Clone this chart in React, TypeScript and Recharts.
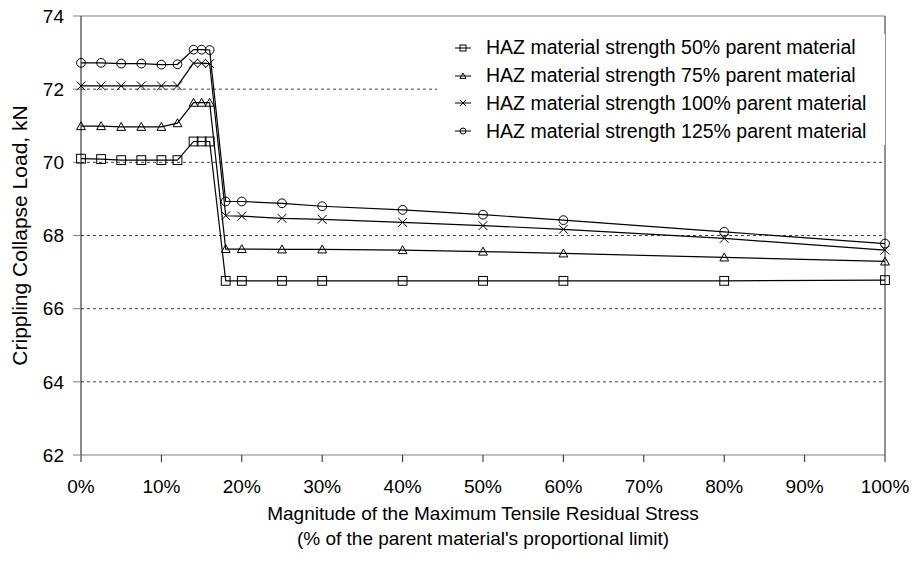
import React from 'react';
import { LineChart, Line, XAxis, YAxis, CartesianGrid, ReferenceLine, Legend } from 'recharts';

const stressPct = [0, 2.5, 5, 7.5, 10, 12, 14, 15, 16, 18, 20, 25, 30, 40, 50, 60, 80, 100];
const haz50 = [70.10, 70.09, 70.06, 70.06, 70.06, 70.06, 70.57, 70.57, 70.57, 66.76, 66.76, 66.76, 66.76, 66.76, 66.76, 66.76, 66.76, 66.78];
const haz75 = [70.99, 70.99, 70.97, 70.97, 70.97, 71.07, 71.63, 71.63, 71.63, 67.63, 67.63, 67.62, 67.62, 67.60, 67.56, 67.51, 67.40, 67.29];
const haz100 = [72.09, 72.09, 72.09, 72.09, 72.09, 72.09, 72.71, 72.71, 72.70, 68.54, 68.53, 68.47, 68.44, 68.36, 68.27, 68.17, 67.92, 67.60];
const haz125 = [72.72, 72.72, 72.70, 72.70, 72.67, 72.68, 73.08, 73.08, 73.07, 68.93, 68.93, 68.88, 68.80, 68.70, 68.57, 68.42, 68.10, 67.78];

const seriesNames = [
  'HAZ material strength 50% parent material',
  'HAZ material strength 75% parent material',
  'HAZ material strength 100% parent material',
  'HAZ material strength 125% parent material',
];
const seriesKeys = ['s50', 's75', 's100', 's125'];
const markerKinds = ['square', 'triangle', 'cross', 'circle'];

const xTicks = [0, 10, 20, 30, 40, 50, 60, 70, 80, 90, 100];
const yTicks = [62, 64, 66, 68, 70, 72, 74];
const gridValues = [64, 66, 68, 70, 72];

const xTitle1 = 'Magnitude of the Maximum Tensile Residual Stress';
const xTitle2 = "(% of the parent material's proportional limit)";
const yTitle = 'Crippling Collapse Load, kN';

const data = stressPct.map((x, i) => ({
  x,
  s50: haz50[i],
  s75: haz75[i],
  s100: haz100[i],
  s125: haz125[i],
}));

const FONT = '"Liberation Sans", Arial, sans-serif';

function Marker({ kind, cx, cy, r }: { kind: string; cx: number; cy: number; r: number }) {
  const common = { fill: 'none', stroke: '#000', strokeWidth: 1 };
  if (cx == null || cy == null) return null;
  if (kind === 'square') {
    return <rect x={cx - r} y={cy - r} width={2 * r} height={2 * r} {...common} />;
  }
  if (kind === 'triangle') {
    return (
      <polygon
        points={`${cx},${cy - r} ${cx + r},${cy + r * 0.8} ${cx - r},${cy + r * 0.8}`}
        {...common}
      />
    );
  }
  if (kind === 'cross') {
    return (
      <path
        d={`M${cx - r},${cy - r}L${cx + r},${cy + r}M${cx - r},${cy + r}L${cx + r},${cy - r}`}
        {...common}
      />
    );
  }
  return <circle cx={cx} cy={cy} r={r} {...common} />;
}

const makeDot = (kind: string) => (p: any) => (
  <Marker key={`${kind}-${p.index}`} kind={kind} cx={p.cx} cy={p.cy} r={4.4} />
);

const renderLegend = () => (
  <div style={{ background: '#fff', paddingLeft: 18, fontFamily: FONT }}>
    {seriesNames.map((name, i) => (
      <div key={name} style={{ display: 'flex', alignItems: 'center', height: 27.8 }}>
        <svg width={16} height={12} style={{ display: 'block' }}>
          <line x1={0} y1={6} x2={16} y2={6} stroke="#000" strokeWidth={1} />
          <Marker kind={markerKinds[i]} cx={8} cy={6} r={3} />
        </svg>
        <span style={{ marginLeft: 15, fontSize: 19.5, color: '#000', whiteSpace: 'nowrap' }}>{name}</span>
      </div>
    ))}
  </div>
);

const XTitle = (props: any) => {
  const vb = props.viewBox || {};
  const cx = vb.x + vb.width / 2;
  return (
    <text x={cx} y={vb.y} textAnchor="middle" fontFamily={FONT} fontSize={19} fill="#000">
      <tspan x={cx} dy={65}>{xTitle1}</tspan>
      <tspan x={cx} dy={25}>{xTitle2}</tspan>
    </text>
  );
};

const YTitle = (props: any) => {
  const vb = props.viewBox || {};
  const cy = vb.y + vb.height / 2;
  const cx = 19.5;
  return (
    <text
      x={cx}
      y={cy}
      textAnchor="middle"
      dominantBaseline="central"
      transform={`rotate(-90, ${cx}, ${cy})`}
      fontFamily={FONT}
      fontSize={21}
      fill="#000"
    >
      {yTitle}
    </text>
  );
};

export default function App() {
  return (
    <div style={{ position: 'absolute', left: 0, top: 0, width: 921, height: 562, background: '#fff' }}>
      <LineChart width={921} height={562} data={data} margin={{ top: 16, right: 36, left: 0, bottom: 0 }}>
        <CartesianGrid horizontal={false} vertical={false} />
        {gridValues.map((v) => (
          <ReferenceLine key={v} y={v} stroke="#444" strokeDasharray="3 3" strokeWidth={1} />
        ))}
        <ReferenceLine y={74} stroke="#808080" strokeWidth={1} />
        <ReferenceLine x={100} stroke="#222" strokeWidth={1} />
        <XAxis
          dataKey="x"
          type="number"
          domain={[0, 100]}
          ticks={xTicks}
          tickFormatter={(v) => `${v}%`}
          height={107}
          tickSize={7}
          tickMargin={18}
          axisLine={{ stroke: '#808080' }}
          tickLine={{ stroke: '#222' }}
          tick={{ fontSize: 19, fill: '#000', fontFamily: FONT }}
          interval={0}
          label={{ content: XTitle }}
        />
        <YAxis
          type="number"
          domain={[62, 74]}
          ticks={yTicks}
          width={81}
          tickSize={8}
          tickMargin={9}
          axisLine={{ stroke: '#111' }}
          tickLine={{ stroke: '#808080' }}
          tick={{ fontSize: 19, fill: '#000', fontFamily: FONT }}
          interval={0}
          allowDataOverflow
          label={{ content: YTitle }}
        />
        <Legend
          layout="vertical"
          align="center"
          verticalAlign="middle"
          content={renderLegend}
          wrapperStyle={{ position: 'absolute', left: 437, top: 34, width: 448, background: '#fff' }}
        />
        {seriesKeys.map((k, i) => (
          <Line
            key={k}
            dataKey={k}
            name={seriesNames[i]}
            stroke="#000"
            strokeWidth={1.2}
            type="linear"
            dot={makeDot(markerKinds[i])}
            activeDot={false}
            isAnimationActive={false}
          />
        ))}
      </LineChart>
    </div>
  );
}
